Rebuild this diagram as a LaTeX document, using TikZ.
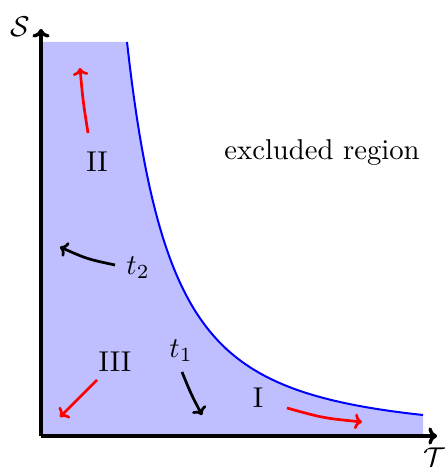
\documentclass[tikz,border=0pt]{standalone}
\usetikzlibrary{arrows.meta}
\begin{document}
\begin{tikzpicture}[x=0.349pt,y=-0.349pt,
  axis/.style={very thick,-{To[length=3pt,width=6pt]}},
  redarrow/.style={red,line width=0.95pt,-{To[length=2.6pt,width=5.4pt]}},
  blackarrow/.style={black,line width=0.95pt,-{To[length=2.6pt,width=5.4pt]}},
  lbl/.style={inner sep=0pt}]
\useasboundingbox (0,0) rectangle (445,467);
\fill[blue!25] (41,436) -- (41,42) -- (127,42)
  -- plot[domain=86:382,samples=120] ({41+\x},{436-394*(86/\x)^1.966})
  -- (423,436) -- cycle;
\draw[blue,line width=0.7pt] plot[domain=86:382,samples=120] ({41+\x},{436-394*(86/\x)^1.966});
\coordinate (O) at (41,436);
\coordinate (Ytip) at (41,29);
\coordinate (Xtip) at (437,436);
\draw[axis] (O) -- (Ytip);
\draw[axis] (O) -- (Xtip);
\node[lbl] (S) at (20,27) {$\mathcal{S}$};
\node[lbl] (T) at (435,458) {$\mathcal{T}$};
\node[lbl] (excl) at (322,153) {excluded region};
\node[lbl] (II) at (97,162) {II};
\node[lbl] (III) at (115,362) {III};
\node[lbl] (I) at (258,398) {I};
\node[lbl] (t2) at (138,268) {$t_2$};
\node[lbl] (t1) at (181,351) {$t_1$};
\coordinate (a2s) at (88,133); \coordinate (a2e) at (80,68);
\draw[redarrow] (a2s) .. controls (83,101) .. (a2e);
\coordinate (a3s) at (97,380); \coordinate (a3e) at (60,417);
\draw[redarrow] (a3s) -- (a3e);
\coordinate (a1s) at (287,408); \coordinate (a1e) at (362,422);
\draw[redarrow] (a1s) .. controls (323,418) .. (a1e);
\coordinate (b2s) at (115,265); \coordinate (b2e) at (60,247);
\draw[blackarrow] (b2s) .. controls (87,259) .. (b2e);
\coordinate (b1s) at (182,372); \coordinate (b1e) at (202,415);
\draw[blackarrow] (b1s) .. controls (191,394) .. (b1e);
\end{tikzpicture}
\end{document}
